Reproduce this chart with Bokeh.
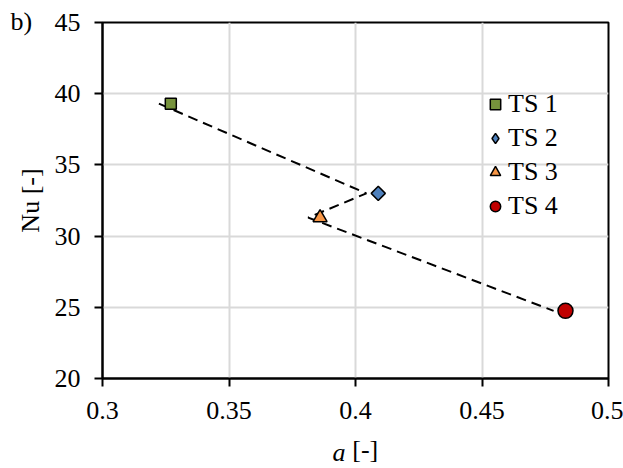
import math
from bokeh.plotting import figure
from bokeh.models import ColumnDataSource, Legend, LegendItem, Title, Range1d, FixedTicker
from bokeh.transform import dodge
from bokeh.embed import file_html
from bokeh.resources import INLINE

# ---- data ----
series = ["TS 1", "TS 2", "TS 3", "TS 4"]
a_vals = [0.327, 0.409, 0.386, 0.483]
nu_vals = [39.3, 33.0, 31.3, 24.75]
x_ticks = [0.3, 0.35, 0.4, 0.45, 0.5]
y_ticks = [20, 25, 30, 35, 40, 45]

markers = ["square", "square", "triangle", "circle"]
legend_markers = ["square", "diamond", "triangle", "circle"]
angles = [0, math.pi / 4, 0, 0]
sizes = [11, 10, 14, 15]
colors = ["#77933C", "#4F81BD", "#F79646", "#C00000"]

FONT = "Liberation Serif"
FS = "26px"
X0, X1, Y0, Y1 = 0.3, 0.5, 20, 45
FL, FR, FT, FB = 102, 608, 22, 378   # frame edges in canvas pixels

p = figure(width=623, height=468, output_backend="svg", toolbar_location=None,
           x_range=Range1d(X0, X1), y_range=Range1d(Y0, Y1),
           min_border_left=FL, min_border_right=623 - FR, min_border_top=FT,
           min_border_bottom=468 - FB)
p.background_fill_color = "white"
p.border_fill_color = "white"
p.outline_line_color = "black"
p.outline_line_width = 2

for ax, ticks in ((p.xaxis, x_ticks), (p.yaxis, y_ticks)):
    ax.ticker = FixedTicker(ticks=ticks)
    ax.axis_line_color = "black"
    ax.axis_line_width = 2
    ax.major_tick_line_color = "black"
    ax.major_tick_line_width = 2
    ax.major_tick_out = 8
    ax.major_tick_in = 0
    ax.minor_tick_line_color = None
    ax.major_label_text_font = FONT
    ax.major_label_text_font_size = FS
    ax.major_label_text_color = "black"

p.xaxis.major_label_standoff = 15
p.yaxis.major_label_standoff = 14
p.xaxis.major_label_overrides = {0.3: "0.3", 0.35: "0.35", 0.4: "0.4", 0.45: "0.45", 0.5: "0.5"}

p.yaxis.axis_label = "Nu [-]"
p.xaxis.axis_label = "\u00a0\u00a0\u00a0[-]"
for ax in (p.xaxis, p.yaxis):
    ax.axis_label_text_font = FONT
    ax.axis_label_text_font_size = FS
    ax.axis_label_text_font_style = "normal"
    ax.axis_label_text_color = "black"
p.yaxis.axis_label_standoff = 7
p.xaxis.axis_label_standoff = 13

p.xgrid.grid_line_color = "#d9d9d9"
p.ygrid.grid_line_color = "#d9d9d9"
p.xgrid.grid_line_width = 2
p.ygrid.grid_line_width = 2

src = ColumnDataSource(dict(a=a_vals, nu=nu_vals))
p.line(x=dodge("a", -0.0047), y="nu", source=src, line_color="black",
       line_width=2, line_dash="10 6")

items = []
for i, name in enumerate(series):
    s = ColumnDataSource(dict(a=[a_vals[i]], nu=[nu_vals[i]]))
    if legend_markers[i] != markers[i]:
        # legend glyph (hidden underneath the plotted marker)
        lr = p.scatter(x="a", y="nu", source=s, marker=legend_markers[i], size=8,
                       fill_color=colors[i], line_color="black", line_width=1.5)
    r = p.scatter(x="a", y="nu", source=s, marker=markers[i], size=sizes[i], angle=angles[i],
                  fill_color=colors[i], line_color="black", line_width=1.5)
    if legend_markers[i] == markers[i]:
        lr = r
    items.append(LegendItem(label=name, renderers=[lr]))

legend = Legend(items=items, location=(380, 156), padding=0, margin=0, spacing=2,
                glyph_width=26, glyph_height=32, label_height=32, label_standoff=0,
                label_text_font=FONT, label_text_font_size=FS, label_text_color="black",
                background_fill_alpha=0, border_line_color=None)
p.add_layout(legend, "center")

# panel label "b)" at the top-left corner
p.add_layout(Title(text="b)", align="left", offset=-92, vertical_align="bottom", standoff=-26,
                   text_font=FONT, text_font_size=FS, text_font_style="normal",
                   text_color="black"), "above")
# italic "a" of the x-axis title
p.add_layout(Title(text="a", align="left", offset=230, vertical_align="top", standoff=-58,
                   text_font=FONT, text_font_size=FS, text_font_style="italic",
                   text_color="black"), "below")

open("out.html", "w").write(file_html(p, INLINE))
